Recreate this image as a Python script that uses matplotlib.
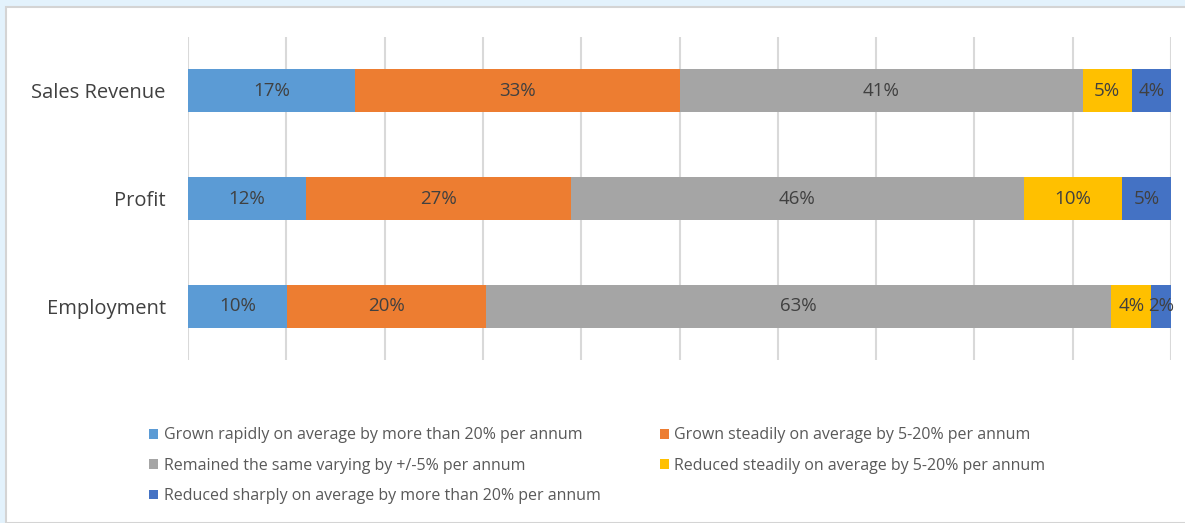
import matplotlib.pyplot as plt
from matplotlib.patches import Rectangle, Patch
import numpy as np

categories = ['Sales Revenue', 'Profit', 'Employment']
series = [
    'Grown rapidly on average by more than 20% per annum',
    'Grown steadily on average by 5-20% per annum',
    'Remained the same varying by +/-5% per annum',
    'Reduced steadily on average by 5-20% per annum',
    'Reduced sharply on average by more than 20% per annum',
]
grown_rapidly = [17, 12, 10]
grown_steadily = [33, 27, 20]
remained_same = [41, 46, 63]
reduced_steadily = [5, 10, 4]
reduced_sharply = [4, 5, 2]
colors = ['#5B9BD5', '#ED7D31', '#A5A5A5', '#FFC000', '#4472C4']

plt.rcParams['font.family'] = ['Open Sans', 'DejaVu Sans']

values = np.array([grown_rapidly, grown_steadily, remained_same,
                   reduced_steadily, reduced_sharply], dtype=float)
# 100% stacked: each row scaled to its own total
shares = values / values.sum(axis=0) * 100

fig = plt.figure(figsize=(11.85, 5.23), dpi=100, facecolor='#E3F2FC')
fig.patches.append(Rectangle((6 / 1185, 0), 1, 1 - 7 / 523, transform=fig.transFigure,
                             facecolor='white', edgecolor='#D4D4D4', lw=1.5, zorder=-1))

ax = fig.add_axes([188 / 1185, 1 - 360 / 523, 983 / 1185, 323 / 523])
ax.set_facecolor('none')

y = np.arange(len(categories))
left = np.zeros(len(categories))
for i in range(len(series)):
    ax.barh(y, shares[i], left=left, height=0.4, color=colors[i], zorder=3)
    for j in range(len(categories)):
        ax.text(left[j] + shares[i][j] / 2, y[j], f'{int(values[i][j])}%',
                ha='center', va='center', fontsize=13.5, color='#404040', zorder=4)
    left += shares[i]

ax.set_xlim(0, 100)
ax.set_ylim(2.5, -0.5)
ax.set_xticks(np.arange(0, 101, 10))
ax.set_xticklabels([])
ax.grid(axis='x', color='#D9D9D9', lw=1.5, zorder=0)
ax.tick_params(axis='x', length=0)
ax.set_yticks(y)
ax.set_yticklabels(categories, fontsize=14.5, color='#404040')
ax.tick_params(axis='y', length=0, pad=16)
for s in ax.spines.values():
    s.set_visible(False)

handles = [Patch(facecolor=c, edgecolor='none') for c in colors]
order = [0, 2, 4, 1, 3]
fig.legend([handles[k] for k in order], [series[k] for k in order],
           ncol=2, loc='upper left', bbox_to_anchor=(135 / 1185, 1 - 413 / 523),
           frameon=False, fontsize=11.5, labelcolor='#595959',
           handlelength=0.55, handleheight=0.55, handletextpad=0.35,
           columnspacing=3.7, labelspacing=0.9)

fig.savefig('out.png', dpi=100, facecolor=fig.get_facecolor())
